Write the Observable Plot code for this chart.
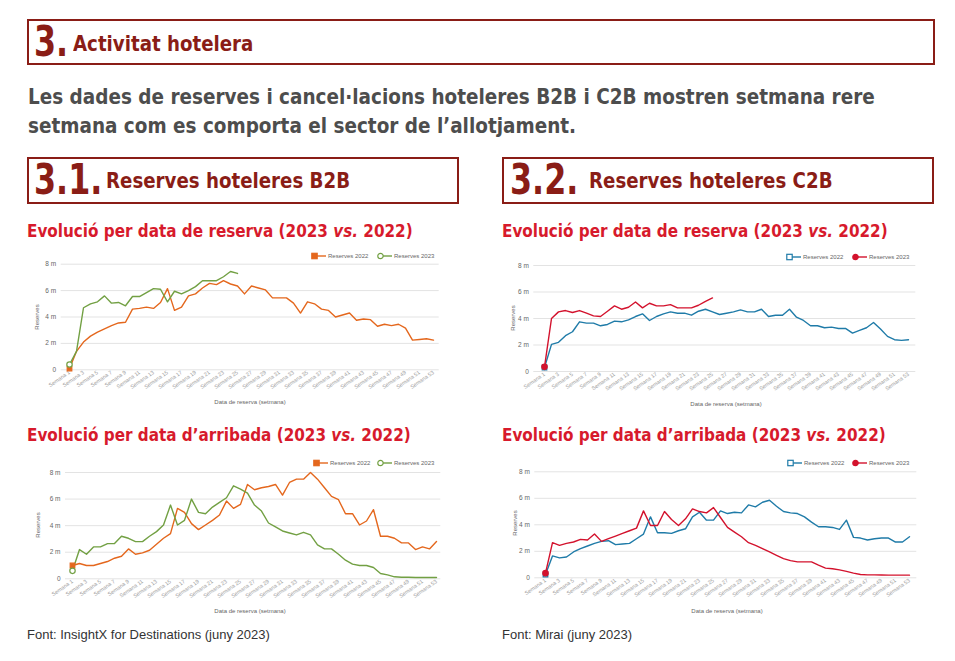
<!DOCTYPE html>
<html>
<head>
<meta charset="utf-8">
<script src="https://cdn.jsdelivr.net/npm/d3@7"></script>
<script src="https://cdn.jsdelivr.net/npm/@observablehq/plot@0.6"></script>
<style>
  html, body { margin:0; padding:0; background:#fff; }
  #page { position:relative; width:955px; height:661px; background:#fff; overflow:hidden;
          font-family:"Liberation Sans", Arial, sans-serif; }
  .abs { position:absolute; white-space:nowrap; }
  .narrow { font-family:"Liberation Sans Narrow","Arial Narrow","DejaVu Sans Condensed","Liberation Sans",sans-serif; font-weight:bold; transform-origin:left top; }
  .box { position:absolute; box-sizing:border-box; border:2px solid #8a1d16; }
  .num { color:#8a1d16; font-size:42px; line-height:42px; transform:scaleX(0.84); }
  .ttl { color:#8a1d16; font-size:22px; line-height:22px; transform:scaleX(0.92); }
  .sub { color:#d71a2c; font-size:18px; line-height:18px; transform:scaleX(0.94); }
  .para { color:#4d4d4d; font-size:21px; line-height:29px; transform:scaleX(0.975); }
  .foot { color:#333; font-size:13px; line-height:13px; font-family:"Liberation Sans", Arial, sans-serif; }
  .ytitle { font-size:6px; color:#666; transform:translate(-50%,-50%) rotate(-90deg); }
  .xtitle { font-size:6px; color:#666; transform:translate(-50%,-50%); }
  .leg { font-size:6px; color:#666; display:flex; align-items:center; transform:translateY(-50%); }
  .leg svg { margin-right:2px; }
  .chart { position:absolute; }
</style>
</head>
<body>
<div id="page"></div>
<script>
// ---------- data ----------
const weekLabels = ["Semana 1","Semana 2","Semana 3","Semana 4","Semana 5","Semana 6","Semana 7","Semana 8","Semana 9","Semana 10",
  "Semana 11","Semana 12","Semana 13","Semana 14","Semana 15","Semana 16","Semana 17","Semana 18","Semana 19","Semana 20",
  "Semana 21","Semana 22","Semana 23","Semana 24","Semana 25","Semana 26","Semana 27","Semana 28","Semana 29","Semana 30",
  "Semana 31","Semana 32","Semana 33","Semana 34","Semana 35","Semana 36","Semana 37","Semana 38","Semana 39","Semana 40",
  "Semana 41","Semana 42","Semana 43","Semana 44","Semana 45","Semana 46","Semana 47","Semana 48","Semana 49","Semana 50",
  "Semana 51","Semana 52","Semana 53"];
const xTickLabels = weekLabels.filter((d, i) => i % 2 === 0);
const yTicks = [0, 2, 4, 6, 8];
const yTickLabels = ["0", "2 m", "4 m", "6 m", "8 m"];
const seriesNames = ["Reserves 2022", "Reserves 2023"];

// B2B – per data de reserva (milions)
const b2bReserva2022 = [0.1,1.4,2.1,2.55,2.85,3.1,3.35,3.55,3.6,4.6,4.65,4.75,4.65,5.1,6.15,4.5,4.75,5.6,5.75,6.2,
  6.55,6.45,6.75,6.5,6.35,5.75,6.35,6.2,6.05,5.45,5.45,5.45,5.05,4.3,5.15,5.0,4.6,4.5,4.0,4.15,
  4.3,3.75,3.85,3.8,3.3,3.45,3.35,3.45,3.15,2.25,2.3,2.35,2.25];
const b2bReserva2023 = [0.4,1.4,4.7,5.0,5.15,5.6,5.05,5.1,4.85,5.55,5.55,5.85,6.15,6.1,5.15,5.95,5.75,6.0,6.3,6.75,
  6.75,6.75,7.05,7.45,7.3];
// C2B – per data de reserva
const c2bReserva2022 = [0.3,2.05,2.2,2.7,3.0,3.75,3.65,3.65,3.45,3.55,3.8,3.75,3.9,4.15,4.35,3.85,4.15,4.35,4.5,4.4,
  4.4,4.25,4.55,4.7,4.5,4.3,4.4,4.5,4.65,4.5,4.5,4.7,4.15,4.25,4.25,4.7,4.1,3.85,3.45,3.45,
  3.3,3.35,3.25,3.25,2.9,3.1,3.3,3.7,3.2,2.65,2.4,2.35,2.4];
const c2bReserva2023 = [0.35,4.0,4.5,4.6,4.45,4.6,4.4,4.2,4.15,4.55,4.95,4.7,4.85,5.25,4.8,5.15,4.95,4.95,5.05,4.8,
  4.8,4.8,5.0,5.3,5.55];
// B2B – per data d'arribada
const b2bArribada2022 = [1.0,1.15,1.0,1.0,1.15,1.3,1.55,1.7,2.25,1.85,1.95,2.15,2.6,3.05,3.4,5.3,5.0,4.15,3.7,4.05,
  4.4,4.8,5.85,5.3,5.6,7.1,6.7,6.85,6.95,7.1,6.3,7.25,7.5,7.5,8.0,7.5,6.85,6.2,5.95,4.9,
  4.9,4.05,4.35,5.2,3.2,3.2,3.05,2.7,2.7,2.2,2.4,2.25,2.8];
const b2bArribada2023 = [0.6,2.2,1.85,2.4,2.4,2.65,2.65,3.2,3.05,2.8,2.8,3.2,3.55,4.05,5.55,4.05,4.4,6.0,5.0,4.9,
  5.4,5.75,6.1,7.0,6.75,6.45,5.55,5.1,4.2,3.9,3.6,3.45,3.3,3.5,3.3,2.55,2.25,2.25,1.85,1.4,
  1.1,1.0,1.0,0.85,0.4,0.3,0.15,0.12,0.12,0.1,0.1,0.1,0.1];
// C2B – per data d'arribada
const c2bArribada2022 = [0.25,1.65,1.5,1.57,1.95,2.2,2.4,2.6,2.75,2.8,2.5,2.55,2.6,2.95,3.3,4.6,3.4,3.4,3.35,3.55,
  3.7,4.6,4.95,4.35,4.35,5.05,4.85,4.95,4.9,5.5,5.35,5.7,5.85,5.4,5.0,4.9,4.85,4.6,4.2,3.85,
  3.85,3.8,3.65,4.35,3.05,3.0,2.85,2.95,3.0,3.0,2.7,2.7,3.1];
const c2bArribada2023 = [0.35,2.65,2.45,2.6,2.7,2.9,2.85,3.3,2.75,2.95,3.15,3.35,3.55,3.75,5.05,3.95,3.95,5.0,4.4,3.95,
  4.45,5.2,5.0,4.9,5.3,4.55,3.8,3.45,3.1,2.65,2.45,2.2,1.95,1.7,1.45,1.3,1.2,1.2,1.2,0.95,
  0.73,0.68,0.6,0.48,0.35,0.25,0.22,0.22,0.21,0.2,0.2,0.2,0.2];

// ---------- styling ----------
const ORANGE = "#e4671d", GREEN = "#72a043", BLUE = "#1f7ba8", RED = "#d3122d";
const b2bStyle = {c22: ORANGE, c23: GREEN, s22: {symbol: "square", fill: ORANGE, stroke: ORANGE}, s23: {symbol: "circle", fill: "#fff", stroke: GREEN}};
const c2bStyle = {c22: BLUE, c23: RED, s22: {symbol: "square", fill: "#fff", stroke: BLUE}, s23: {symbol: "circle", fill: RED, stroke: RED}};

const page = document.getElementById("page");
function add(html) { page.insertAdjacentHTML("beforeend", html); }

// headers
add(`<div class="box" style="left:27px;top:19px;width:908px;height:46px"></div>`);
add(`<div class="abs narrow num" style="left:34px;top:21px">3.</div>`);
add(`<div class="abs narrow ttl" style="left:73px;top:33px">Activitat hotelera</div>`);
add(`<div class="abs narrow para" style="left:28px;top:83px">Les dades de reserves i cancel·lacions hoteleres B2B i C2B mostren setmana rere<br>setmana com es comporta el sector de l’allotjament.</div>`);
add(`<div class="box" style="left:27px;top:157px;width:432px;height:47px"></div>`);
add(`<div class="abs narrow num" style="left:34px;top:159px">3.1.</div>`);
add(`<div class="abs narrow ttl" style="left:106px;top:170px">Reserves hoteleres B2B</div>`);
add(`<div class="box" style="left:502px;top:157px;width:432px;height:47px"></div>`);
add(`<div class="abs narrow num" style="left:510px;top:159px">3.2.</div>`);
add(`<div class="abs narrow ttl" style="left:589px;top:170px">Reserves hoteleres C2B</div>`);
const sub1 = `Evolució per data de reserva (2023 <i>vs.</i> 2022)`;
const sub2 = `Evolució per data d’arribada (2023 <i>vs.</i> 2022)`;
add(`<div class="abs narrow sub" style="left:27px;top:222px">${sub1}</div>`);
add(`<div class="abs narrow sub" style="left:502px;top:222px">${sub1}</div>`);
add(`<div class="abs narrow sub" style="left:27px;top:426px">${sub2}</div>`);
add(`<div class="abs narrow sub" style="left:502px;top:426px">${sub2}</div>`);
add(`<div class="abs foot" style="left:27px;top:628px">Font: InsightX for Destinations (juny 2023)</div>`);
add(`<div class="abs foot" style="left:502px;top:628px">Font: Mirai (juny 2023)</div>`);

function legendItem(color, sym) {
  const shape = sym.symbol === "square"
    ? `<rect x="0.8" y="1.3" width="5.4" height="5.4" fill="${sym.fill}" stroke="${sym.stroke}" stroke-width="1.2"/>`
    : `<circle cx="3.5" cy="4" r="2.7" fill="${sym.fill}" stroke="${sym.stroke}" stroke-width="1.2"/>`;
  return `<svg width="15" height="8"><line x1="1" x2="15" y1="4" y2="4" stroke="${color}" stroke-width="1.4"/>${shape}</svg>`;
}

function drawChart(cfg) {
  const {left, top, x0, x1, y0, y8, d22, d23, st} = cfg;
  const W = 430, H = 170;
  const t22 = d22.map((v, i) => ({week: weekLabels[i], value: v}));
  const t23 = d23.map((v, i) => ({week: weekLabels[i], value: v}));
  const svg = Plot.plot({
    width: W, height: H,
    marginLeft: x0 - 5, marginRight: W - x1 - 2, insetLeft: 5, insetRight: 2,
    marginTop: y8, marginBottom: H - y0,
    x: {type: "point", domain: weekLabels, padding: 0},
    y: {domain: [0, 8]},
    style: {fontFamily: "Liberation Sans, Arial, sans-serif", background: "transparent", overflow: "visible"},
    marks: [
      Plot.ruleY(yTicks, {stroke: "#e3e3e3", strokeWidth: 1}),
      Plot.axisY(yTicks, {tickSize: 0, tickPadding: 5, tickFormat: d => yTickLabels[yTicks.indexOf(d)],
        fontSize: 6.5, fill: "#666", label: null}),
      Plot.axisX(xTickLabels, {tickSize: 0, tickPadding: 2, tickRotate: -35, fontSize: 5.4, fill: "#9a9a9a", label: null}),
      Plot.lineY(t22, {x: "week", y: "value", stroke: st.c22, strokeWidth: 1.4}),
      Plot.lineY(t23, {x: "week", y: "value", stroke: st.c23, strokeWidth: 1.4}),
      Plot.dot(t22.slice(0, 1), {x: "week", y: "value", symbol: "square", r: 2.6, fill: st.s22.fill, stroke: st.s22.stroke, strokeWidth: 1.2}),
      Plot.dot(t23.slice(0, 1), {x: "week", y: "value", symbol: "circle", r: 2.7, fill: st.s23.fill, stroke: st.s23.stroke, strokeWidth: 1.2})
    ]
  });
  svg.classList.add("chart");
  svg.style.left = left + "px";
  svg.style.top = top + "px";
  page.appendChild(svg);
  add(`<div class="abs ytitle" style="left:${cfg.yt[0]}px;top:${cfg.yt[1]}px">Reserves</div>`);
  add(`<div class="abs xtitle" style="left:${cfg.xt[0]}px;top:${cfg.xt[1]}px">Data de reserva (setmana)</div>`);
  add(`<div class="abs leg" style="left:${cfg.lg[0]}px;top:${cfg.lg[2]}px">${legendItem(st.c22, st.s22)}${seriesNames[0]}</div>`);
  add(`<div class="abs leg" style="left:${cfg.lg[1]}px;top:${cfg.lg[2]}px">${legendItem(st.c23, st.s23)}${seriesNames[1]}</div>`);
}

drawChart({left: 20, top: 245, x0: 45.7, x1: 416.7, y0: 124.3, y8: 18.7, d22: b2bReserva2022, d23: b2bReserva2023, st: b2bStyle,
  yt: [37, 317], xt: [250, 402], lg: [311, 377, 255.5]});
drawChart({left: 500, top: 245, x0: 38.3, x1: 413.3, y0: 126, y8: 20, d22: c2bReserva2022, d23: c2bReserva2023, st: c2bStyle,
  yt: [513, 318], xt: [726, 404], lg: [786, 852, 256.5]});
drawChart({left: 20, top: 450, x0: 50, x1: 418.3, y0: 128.3, y8: 22, d22: b2bArribada2022, d23: b2bArribada2023, st: b2bStyle,
  yt: [38, 525], xt: [250, 611], lg: [313, 377, 462.5]});
drawChart({left: 500, top: 450, x0: 39.3, x1: 414.3, y0: 127.3, y8: 21.3, d22: c2bArribada2022, d23: c2bArribada2023, st: c2bStyle,
  yt: [515, 523], xt: [727, 611], lg: [787, 852, 462.5]});
</script>
</body>
</html>
